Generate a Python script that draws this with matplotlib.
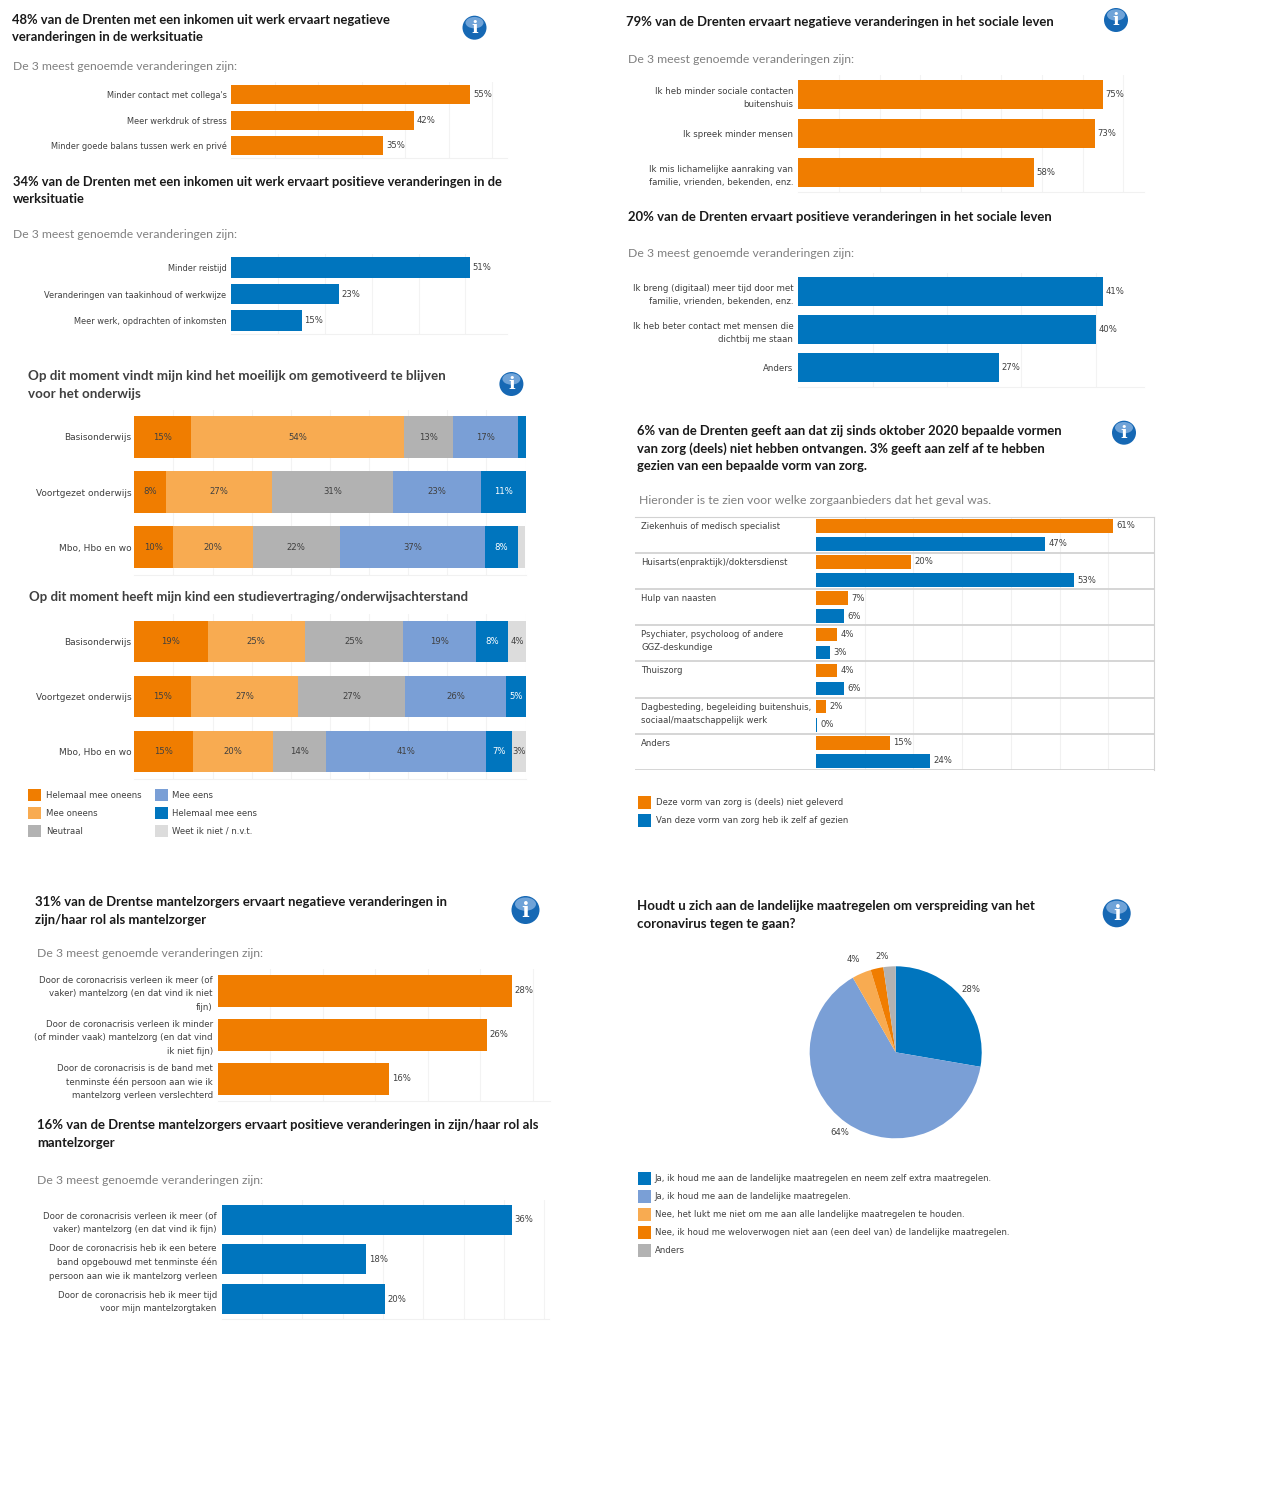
"""Dashboard page with survey results for Drenthe (corona monitor)."""
import matplotlib
matplotlib.use('Agg')
import matplotlib.pyplot as plt
from matplotlib.patches import Circle, Ellipse, Rectangle
import numpy as np

W, H = 1280, 1499
ORANGE = '#f07d00'
LIGHT_ORANGE = '#f8ab51'
GREY = '#b2b2b2'
LIGHT_BLUE = '#7a9fd6'
BLUE = '#0075be'
LIGHT_GREY = '#dcdcdc'
STACK_COLORS = [ORANGE, LIGHT_ORANGE, GREY, LIGHT_BLUE, BLUE, LIGHT_GREY]

TITLE_FONT = ['Lato', 'DejaVu Sans']
LABEL_SIZE = 6.15

# ─── Data ───────────────────────────────────────────────────────────────────

work_neg_labels = ['Minder contact met collega\'s', 'Meer werkdruk of stress',
                   'Minder goede balans tussen werk en privé']
work_neg_values = [55, 42, 35]
work_pos_labels = ['Minder reistijd', 'Veranderingen van taakinhoud of werkwijze',
                   'Meer werk, opdrachten of inkomsten']
work_pos_values = [51, 23, 15]

social_neg_labels = ['Ik heb minder sociale contacten\nbuitenshuis', 'Ik spreek minder mensen',
                     'Ik mis lichamelijke aanraking van\nfamilie, vrienden, bekenden, enz.']
social_neg_values = [75, 73, 58]
social_pos_labels = ['Ik breng (digitaal) meer tijd door met\nfamilie, vrienden, bekenden, enz.',
                     'Ik heb beter contact met mensen die\ndichtbij me staan', 'Anders']
social_pos_values = [41, 40, 27]

carer_neg_labels = ['Door de coronacrisis verleen ik meer (of\nvaker) mantelzorg (en dat vind ik niet\nfijn)',
                    'Door de coronacrisis verleen ik minder\n(of minder vaak) mantelzorg (en dat vind\nik niet fijn)',
                    'Door de coronacrisis is de band met\ntenminste één persoon aan wie ik\nmantelzorg verleen verslechterd']
carer_neg_values = [28, 25.6, 16.3]
carer_pos_labels = ['Door de coronacrisis verleen ik meer (of\nvaker) mantelzorg (en dat vind ik fijn)',
                    'Door de coronacrisis heb ik een betere\nband opgebouwd met tenminste één\npersoon aan wie ik mantelzorg verleen',
                    'Door de coronacrisis heb ik meer tijd\nvoor mijn mantelzorgtaken']
carer_pos_values = [36, 17.9, 20.2]

school_levels = ['Basisonderwijs', 'Voortgezet onderwijs', 'Mbo, Hbo en wo']
stack_names = ['Helemaal mee oneens', 'Mee oneens', 'Neutraal', 'Mee eens',
               'Helemaal mee eens', 'Weet ik niet / n.v.t.']
motivation_shares = [[14.6, 54.3, 12.6, 16.6, 2.2, 0],
                     [8.0, 27.3, 30.8, 22.6, 11.4, 0],
                     [9.9, 20.4, 22.2, 37.2, 8.4, 1.7]]
delay_shares = [[18.75, 24.9, 25.0, 18.7, 8.3, 4.4],
                [14.6, 27.3, 27.4, 25.8, 4.9, 0],
                [15.05, 20.4, 13.6, 40.8, 6.8, 3.4]]

care_labels = ['Ziekenhuis of medisch specialist', 'Huisarts(enpraktijk)/doktersdienst',
               'Hulp van naasten', 'Psychiater, psycholoog of andere\nGGZ-deskundige', 'Thuiszorg',
               'Dagbesteding, begeleiding buitenshuis,\nsociaal/maatschappelijk werk', 'Anders']
care_not_delivered = [61, 19.6, 6.6, 4.4, 4.4, 2.1, 15.2]
care_declined = [47, 53, 5.8, 2.9, 5.8, 0.2, 23.5]
care_names = ['Deze vorm van zorg is (deels) niet geleverd',
              'Van deze vorm van zorg heb ik zelf af gezien']

rules_names = ['Ja, ik houd me aan de landelijke maatregelen en neem zelf extra maatregelen.',
               'Ja, ik houd me aan de landelijke maatregelen.',
               'Nee, het lukt me niet om me aan alle landelijke maatregelen te houden.',
               'Nee, ik houd me weloverwogen niet aan (een deel van) de landelijke maatregelen.',
               'Anders']
rules_values = [27.7, 64, 3.6, 2.4, 2.3]
rules_labels = ['28%', '64%', '4%', '2%', '']
rules_colors = [BLUE, LIGHT_BLUE, LIGHT_ORANGE, ORANGE, GREY]

SUB3 = 'De 3 meest genoemde veranderingen zijn:'

# ─── Helpers ────────────────────────────────────────────────────────────────

fig = plt.figure(figsize=(W / 100, H / 100), dpi=100, facecolor='white')

# overlay in pixel coordinates for titles, icons and legends
canvas = fig.add_axes([0, 0, 1, 1], zorder=10)
canvas.set_xlim(0, W)
canvas.set_ylim(H, 0)
canvas.axis('off')
canvas.patch.set_alpha(0)


def axes_px(left, top, right, bottom):
    return fig.add_axes([left / W, 1 - bottom / H, (right - left) / W, (bottom - top) / H])


def title(x, y, text, color='#1a1a1a', line_h=18, size=9.47):
    for i, line in enumerate(text.split('\n')):
        canvas.text(x, y + 0.8 + i * line_h, line, family=TITLE_FONT, fontweight='bold',
                    fontsize=size, color=color, va='center', ha='left')


def subtitle(x, y, text, size=8.85):
    canvas.text(x, y + 0.8, text, family=TITLE_FONT, fontsize=size, color='#808080', va='center')


def info_icon(x, y, r=12):
    canvas.add_patch(Circle((x, y), r, color='#1668b4', lw=0))
    canvas.add_patch(Ellipse((x, y - r * 0.42), r * 1.5, r * 0.95, color='#6fa3d8', lw=0))
    canvas.text(x, y + 0.5, 'i', color='white', fontsize=r * 1.05, fontweight='bold',
                family='DejaVu Serif', ha='center', va='center')


def legend_item(x, y, text, color, text_x=None):
    canvas.add_patch(Rectangle((x, y - 6.3), 13, 12.6, color=color, lw=0))
    canvas.text(text_x or x + 17.5, y, text, fontsize=LABEL_SIZE, color='#404040', va='center')


def clean_axes(ax, grid_ticks):
    ax.set_xticks(grid_ticks)
    ax.grid(axis='x', color='#f3f3f3', lw=0.8)
    ax.set_axisbelow(True)
    ax.tick_params(axis='both', length=0, labelbottom=False)
    for name in ['top', 'left', 'right']:
        ax.spines[name].set_visible(False)
    ax.spines['bottom'].set_color('#f1f1f1')


def set_row_labels(ax, labels, pad_px, size):
    ax.set_yticks(range(len(labels)))
    ax.set_yticklabels(labels, fontsize=size, color='#404040', linespacing=1.6)
    ax.tick_params(axis='y', pad=pad_px * 0.72)
    ax.set_ylim(len(labels) - 0.5, -0.5)


def bar_panel(box, scale, step, labels, values, color, bar_frac, pad_px=5, size=6.22):
    """Horizontal bars; scale is pixels per percent point."""
    left, top, right, bottom = box
    ax = axes_px(left, top, right, bottom)
    bars = ax.barh(range(len(values)), values, height=bar_frac, color=color)
    xmax = (right - left) / scale
    ax.set_xlim(0, xmax)
    clean_axes(ax, np.arange(step, xmax, step))
    set_row_labels(ax, labels, pad_px, size)
    ax.bar_label(bars, labels=[f'{v:.0f}%' for v in values], padding=2,
                 fontsize=LABEL_SIZE, color='#404040')
    return ax


def stacked_panel(box, shares, bar_frac=0.755):
    ax = axes_px(*box)
    left = np.zeros(len(shares))
    data = np.array(shares)
    for j, color in enumerate(STACK_COLORS):
        ax.barh(range(len(shares)), data[:, j], left=left, height=bar_frac, color=color)
        for i, v in enumerate(data[:, j]):
            if v >= 3:
                ax.text(left[i] + v / 2, i, f'{v:.0f}%', ha='center', va='center',
                        fontsize=LABEL_SIZE, color='white' if j == 4 else '#404040')
        left += data[:, j]
    ax.set_xlim(0, 100)
    clean_axes(ax, np.arange(10, 101, 10))
    set_row_labels(ax, school_levels, 3, 6.45)
    return ax


# ─── Left column: work ──────────────────────────────────────────────────────

title(12, 19.3, '48% van de Drenten met een inkomen uit werk ervaart negatieve\nveranderingen in de werksituatie',
      line_h=17, size=9.33)
subtitle(13, 65.7, SUB3, size=8.75)
info_icon(474.5, 27.7)
bar_panel((231.4, 81.7, 507, 158.4), 4.345, 10, work_neg_labels, work_neg_values, ORANGE, 0.74, size=5.96)

title(13, 181, '34% van de Drenten met een inkomen uit werk ervaart positieve veranderingen in de\nwerksituatie',
      line_h=17, size=9.32)
subtitle(13, 234, SUB3, size=8.75)
bar_panel((231.4, 254.2, 507, 334), 4.68, 10, work_pos_labels, work_pos_values, BLUE, 0.77, size=5.97)

# ─── Left column: education ─────────────────────────────────────────────────

title(27.5, 375, 'Op dit moment vindt mijn kind het moeilijk om gemotiveerd te blijven\nvoor het onderwijs',
      color='#404040', line_h=18.3, size=9.62)
info_icon(511.4, 384)
stacked_panel((134.3, 409.5, 525.5, 574.5), motivation_shares)

title(29, 596.3, 'Op dit moment heeft mijn kind een studievertraging/onderwijsachterstand',
      color='#404040', size=9.55)
stacked_panel((134.3, 614.3, 525.5, 778.7), delay_shares)

for k, name in enumerate(stack_names):
    col, row = k // 3, k % 3
    legend_item(28 + col * 127, 795 + row * 18, name, STACK_COLORS[k], text_x=45.8 + col * 126)

# ─── Right column: social life ──────────────────────────────────────────────

title(626, 21, '79% van de Drenten ervaart negatieve veranderingen in het sociale leven')
subtitle(628, 59, SUB3)
info_icon(1116, 20)
bar_panel((798.3, 75.3, 1144, 192), 4.06, 10, social_neg_labels, social_neg_values, ORANGE, 0.745)

title(628, 216, '20% van de Drenten ervaart positieve veranderingen in het sociale leven', size=9.49)
subtitle(628, 253, SUB3)
bar_panel((798.3, 272.7, 1144, 386.7), 7.43, 10, social_pos_labels, social_pos_values, BLUE, 0.755)

# ─── Right column: care ─────────────────────────────────────────────────────

title(636.6, 430, '6% van de Drenten geeft aan dat zij sinds oktober 2020 bepaalde vormen\n'
      'van zorg (deels) niet hebben ontvangen. 3% geeft aan zelf af te hebben\n'
      'gezien van een bepaalde vorm van zorg.', line_h=17.6, size=9.35)
subtitle(639, 500, 'Hieronder is te zien voor welke zorgaanbieders dat het geval was.')
info_icon(1124, 432.7)

care_ax = axes_px(635.4, 516.7, 1153.5, 770)
care_scale = 4.87
care_xmin = -(816 - 635.4) / care_scale
care_xmax = (1153.5 - 816) / care_scale
rows = np.arange(len(care_labels))
care_bars_1 = care_ax.barh(rows - 0.25, care_not_delivered, height=0.375, color=ORANGE)
care_bars_2 = care_ax.barh(rows + 0.25, care_declined, height=0.375, color=BLUE)
care_ax.set_xlim(care_xmin, care_xmax)
care_ax.set_ylim(len(care_labels) - 0.5, -0.5)
care_ax.set_xticks(np.arange(10, care_xmax, 10))
care_ax.set_yticks([])
care_ax.tick_params(axis='x', length=0, labelbottom=False)
care_ax.set_axisbelow(True)
care_ax.grid(axis='x', color='#f1f1f1', lw=0.8)
care_ax.hlines(rows + 0.5, care_xmin, care_xmax, color='#d2d2d2', lw=1.3)
for name in ['left', 'bottom']:
    care_ax.spines[name].set_visible(False)
for name in ['top', 'right']:
    care_ax.spines[name].set_color('#d2d2d2')
for bars, values in [(care_bars_1, care_not_delivered), (care_bars_2, care_declined)]:
    care_ax.bar_label(bars, labels=[f'{v:.0f}%' for v in values], padding=2.5,
                      fontsize=LABEL_SIZE, color='#404040')
for r, label in zip(rows, care_labels):
    care_ax.text(care_xmin + 5.6 / care_scale, r - 0.5 + 5 / 36, label, fontsize=LABEL_SIZE,
                 color='#404040', va='top', ha='left', linespacing=1.6)

for k, name in enumerate(care_names):
    legend_item(638, 802.5 + k * 18, name, [ORANGE, BLUE][k])

# ─── Bottom left: informal carers ───────────────────────────────────────────

title(35, 901.3, '31% van de Drentse mantelzorgers ervaart negatieve veranderingen in\nzijn/haar rol als mantelzorger')
subtitle(37, 952.3, SUB3)
info_icon(525.5, 910, r=14)
bar_panel((217.7, 968.8, 550, 1100.7), 10.5, 5, carer_neg_labels, carer_neg_values, ORANGE, 0.73)

title(36.9, 1124.3, '16% van de Drentse mantelzorgers ervaart positieve veranderingen in zijn/haar rol als\nmantelzorger')
subtitle(37, 1179.3, SUB3)
bar_panel((221.8, 1199.9, 548.6, 1318.9), 8.06, 5, carer_pos_labels, carer_pos_values, BLUE, 0.755)

# ─── Bottom right: pie ──────────────────────────────────────────────────────

title(636.8, 905, 'Houdt u zich aan de landelijke maatregelen om verspreiding van het\ncoronavirus tegen te gaan?',
      size=9.57)
info_icon(1116.7, 913.3, r=14)

pie_ax = axes_px(895.7 - 130, 1052.3 - 130, 895.7 + 130, 1052.3 + 130)
wedges, texts = pie_ax.pie(rules_values, colors=rules_colors, labels=rules_labels, startangle=90,
                           counterclock=False, radius=86, labeldistance=1.14,
                           textprops={'fontsize': LABEL_SIZE, 'color': '#404040'})
for t in texts:
    t.set_ha('center')
    t.set_va('center')
# the two small slices have their labels nudged like in the original page
texts[2].set_position((texts[2].get_position()[0] - 3, texts[2].get_position()[1] + 3))
texts[3].set_position((texts[3].get_position()[0] + 8, texts[3].get_position()[1]))
pie_ax.set_xlim(-130, 130)
pie_ax.set_ylim(-130, 130)

for k, name in enumerate(rules_names):
    legend_item(638, 1178.5 + k * 18, name, rules_colors[k], text_x=654.6)

fig.savefig('out.png', dpi=100, facecolor='white')
